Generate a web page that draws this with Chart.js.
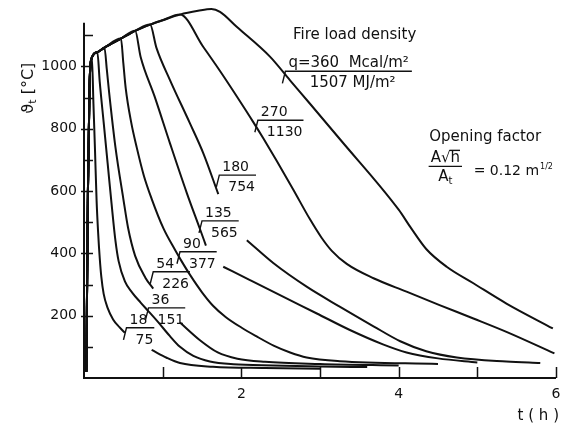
<!DOCTYPE html>
<html>
<head>
<meta charset="utf-8">
<script src="https://cdn.jsdelivr.net/npm/chart.js"></script>
<style>
  body { margin: 0; background: #fff; }
  canvas { display: block; }
</style>
</head>
<body>
<canvas id="fireChart" width="564" height="423"></canvas>
<script>
// shared growth phase (time in h, temperature in degC)
const envTime = [0.03, 0.05, 0.07, 0.09, 0.17, 0.26, 0.47, 0.65, 0.84, 1.0, 1.22, 1.45, 1.62];
const envTemp = [20, 600, 930, 1020, 1045, 1060, 1089, 1114, 1134, 1148, 1166, 1178, 1184];

// decay branches, null = gap where the label sits
const q18Time = [0.10, 0.12, 0.14, 0.16, 0.18, 0.20, 0.22, 0.25, 0.30, 0.37, 0.45, 0.52, 0.70, 0.86, 1.05, 1.22, 1.64, 2.3, 3.0];
const q18Temp = [1030, 880, 730, 570, 465, 385, 325, 270, 225, 188, 163, 145, null, 90, 65, 48, 36, 32, 30];
const q36Time = [0.17, 0.20, 0.25, 0.30, 0.35, 0.40, 0.44, 0.52, 0.61, 0.72, 0.82, 0.94, 1.09, 1.22, 1.39, 1.6, 1.9, 2.4, 3.0, 3.6];
const q36Temp = [1045, 950, 820, 690, 560, 440, 375, 310, 275, 242, 214, 180, 135, 100, 71, 53, 44, 40, 37, 35];
const q54Time = [0.26, 0.29, 0.32, 0.40, 0.50, 0.56, 0.65, 0.78, 0.88, 1.05, 1.22, 1.47, 1.70, 1.95, 2.3, 3.0, 4.0];
const q54Temp = [1060, 990, 915, 740, 575, 482, 392, 322, 287, null, 178, 122, 82, 62, 52, 45, 40];
const q90Time = [0.47, 0.50, 0.53, 0.60, 0.67, 0.76, 0.86, 1.01, 1.16, 1.24, 1.35, 1.50, 1.64, 1.80, 2.0, 2.19, 2.41, 2.62, 2.83, 3.25, 4.5];
const q90Temp = [1089, 1010, 930, 820, 740, 650, 575, 480, 410, 375, 330, 275, 232, 196, 162, 134, 104, 82, 66, 54, 45];
const q135Time = [0.65, 0.72, 0.895, 1.093, 1.305, 1.474, 1.55, 1.66, 1.77, 2.11, 2.53, 2.96, 3.38, 3.80, 4.10, 4.5, 5.0];
const q135Temp = [1114, 1030, 905, 753, 595, 478, 425, null, 357, 314, 261, 207, 154, 108, 82, 63, 50];
const q180Time = [0.84, 0.92, 1.093, 1.347, 1.517, 1.707, 1.89, 2.07, 2.41, 2.83, 3.25, 3.68, 4.02, 4.35, 4.74, 5.37, 5.8];
const q180Temp = [1134, 1060, 956, 817, 721, 590, null, 442, 368, 293, 229, 166, 118, 86, 66, 53, 48];
const q270Time = [1.22, 1.517, 1.729, 1.941, 2.152, 2.279, 2.449, 2.661, 2.873, 3.02, 3.15, 3.34, 3.68, 4.10, 4.52, 4.95, 5.37, 5.98];
const q270Temp = [1166, 1062, 985, 904, 821, 769, 697, 604, 509, 450, 408, 366, 320, 277, 234, 191, 148, 79];
const q360Time = [1.62, 1.729, 1.941, 2.364, 2.619, 2.873, 3.254, 4.0, 4.16, 4.35, 4.61, 4.95, 5.37, 5.96];
const q360Temp = [1184, 1175, 1127, 1031, 955, 880, 766, 540, 480, 414, 357, 304, 239, 159];

// curve labels: Mcal/m2 over MJ/m2, anchored at the left end of the bar
const labelMcal = ['18', '36', '54', '90', '135', '180', '270', 'q=360  Mcal/m²'];
const labelMJ = ['75', '151', '226', '377', '565', '754', '1130', '1507 MJ/m²'];
const labelTime = [0.54, 0.82, 0.88, 1.22, 1.50, 1.72, 2.21, 2.56];
const labelTemp = [161, 225, 341, 405, 504, 651, 827, 984];

const xTicks = [1, 2, 3, 4, 5, 6];
const yTicks = [100, 200, 300, 400, 500, 600, 700, 800, 900, 1000, 1100];

const ink = '#111';
const family = "'DejaVu Sans', sans-serif";

const curves = [
  [q18Time, q18Temp], [q36Time, q36Temp], [q54Time, q54Temp], [q90Time, q90Temp],
  [q135Time, q135Temp], [q180Time, q180Temp], [q270Time, q270Temp], [q360Time, q360Temp]
];

function curvePoints(times, temps) {
  const pts = envTime.map((t, i) => ({ x: t, y: envTemp[i] })).filter(p => p.x < times[0]);
  times.forEach((t, i) => pts.push({ x: t, y: temps[i] }));
  return pts;
}

const datasets = curves.map(([t, T]) => ({
  data: curvePoints(t, T),
  borderColor: ink,
  borderWidth: 2,
  pointRadius: 0,
  fill: false,
  spanGaps: false,
  cubicInterpolationMode: 'monotone'
}));

const inkPlugin = {
  id: 'ink',
  afterDatasetsDraw(chart) {
    const { ctx, scales: { x, y }, chartArea } = chart;
    ctx.save();
    ctx.strokeStyle = ink;
    ctx.fillStyle = ink;
    ctx.lineCap = 'butt';

    // axes
    ctx.lineWidth = 2;
    ctx.beginPath();
    ctx.moveTo(x.getPixelForValue(0), y.getPixelForValue(1140));
    ctx.lineTo(x.getPixelForValue(0), y.getPixelForValue(0));
    ctx.lineTo(x.getPixelForValue(6), y.getPixelForValue(0));
    ctx.stroke();

    // inward ticks
    ctx.lineWidth = 1.5;
    ctx.beginPath();
    yTicks.forEach(v => {
      const py = Math.round(y.getPixelForValue(v)) + 0.5;
      const x0 = x.getPixelForValue(0);
      ctx.moveTo(x0 - (v % 200 === 0 ? 3 : 0), py);
      ctx.lineTo(x0 + 9, py);
    });
    xTicks.forEach(v => {
      const px = Math.round(x.getPixelForValue(v)) + 0.5;
      const y0 = y.getPixelForValue(0);
      ctx.moveTo(px, y0);
      ctx.lineTo(px, y0 - 11);
    });
    ctx.stroke();

    // curve labels
    labelTime.forEach((t, i) => {
      const px = x.getPixelForValue(t);
      const py = y.getPixelForValue(labelTemp[i]);
      const big = i === labelTime.length - 1;
      ctx.font = (big ? 15 : 14) + 'px ' + family;
      const wTop = ctx.measureText(labelMcal[i]).width;
      const wBot = ctx.measureText(labelMJ[i]).width;
      const len = Math.max(wTop + 4, wBot + 8) + 2;
      ctx.lineWidth = 1.4;
      ctx.beginPath();
      ctx.moveTo(px - 3, py + 12);
      ctx.lineTo(px, py);
      ctx.lineTo(px + len, py);
      ctx.stroke();
      ctx.textAlign = 'left';
      ctx.textBaseline = 'alphabetic';
      ctx.fillText(labelMcal[i], px + 3, py - 4);
      ctx.fillText(labelMJ[i], px + Math.max(8, (len - wBot) / 2 + 4), py + 16);
    });

    // fire load density heading
    ctx.font = '15px ' + family;
    ctx.textAlign = 'center';
    ctx.textBaseline = 'middle';
    ctx.fillText('Fire load density', x.getPixelForValue(3.44), y.getPixelForValue(1100));

    // opening factor
    ctx.fillText('Opening factor', x.getPixelForValue(5.10), y.getPixelForValue(772));
    const fx0 = x.getPixelForValue(4.381), fx1 = x.getPixelForValue(4.805);
    const fy = y.getPixelForValue(679);
    ctx.lineWidth = 1.4;
    ctx.beginPath();
    ctx.moveTo(fx0, fy);
    ctx.lineTo(fx1, fy);
    ctx.stroke();
    const numTxt = 'A√h';
    const wNum = ctx.measureText(numTxt).width;
    const cx = (fx0 + fx1) / 2;
    ctx.textAlign = 'left';
    ctx.textBaseline = 'alphabetic';
    const nx = cx - wNum / 2, ny = fy - 4;
    ctx.fillText(numTxt, nx, ny);
    const wA = ctx.measureText('A√').width;
    ctx.beginPath();
    ctx.moveTo(nx + wA - 1, ny - 12);
    ctx.lineTo(nx + wNum, ny - 12);
    ctx.stroke();
    const wA2 = ctx.measureText('A').width;
    ctx.font = '10px ' + family;
    const wt = ctx.measureText('t').width;
    ctx.font = '15px ' + family;
    const dx = cx - (wA2 + wt) / 2;
    ctx.fillText('A', dx, fy + 15);
    ctx.font = '10px ' + family;
    ctx.fillText('t', dx + wA2, fy + 18);

    ctx.font = '14px ' + family;
    const ex = x.getPixelForValue(4.953);
    const ey = y.getPixelForValue(667) + 5;
    ctx.fillText('= 0.12 m', ex, ey);
    const wEq = ctx.measureText('= 0.12 m').width;
    ctx.font = '8px ' + family;
    ctx.fillText('1/2', ex + wEq + 1, ey - 6);

    // y title, rotated
    ctx.save();
    ctx.translate(chartArea.left - 55, y.getPixelForValue(930));
    ctx.rotate(-Math.PI / 2);
    ctx.font = '16px ' + family;
    const w1 = ctx.measureText('ϑ').width;
    const w3 = ctx.measureText(' [°C]').width;
    ctx.font = '11px ' + family;
    const w2 = ctx.measureText('t').width;
    let tx = -(w1 + w2 + w3) / 2;
    ctx.textBaseline = 'middle';
    ctx.font = '16px ' + family;
    ctx.fillText('ϑ', tx, 0);
    tx += w1;
    ctx.font = '11px ' + family;
    ctx.fillText('t', tx, 4);
    tx += w2;
    ctx.font = '16px ' + family;
    ctx.fillText(' [°C]', tx, 0);
    ctx.restore();

    // x title
    ctx.font = '15px ' + family;
    ctx.textAlign = 'right';
    ctx.textBaseline = 'middle';
    ctx.fillText('t ( h )', chartArea.right + 3, chartArea.bottom + 38);

    ctx.restore();
  }
};

function noScalePadding(s) {
  s.paddingTop = 0;
  s.paddingBottom = 0;
  s.paddingLeft = 0;
  s.paddingRight = 0;
}

new Chart(document.getElementById('fireChart').getContext('2d'), {
  type: 'line',
  data: { datasets: datasets },
  options: {
    responsive: false,
    animation: false,
    devicePixelRatio: 1,
    layout: { padding: { top: 4, right: 8, left: 0, bottom: 0 } },
    scales: {
      x: {
        type: 'linear',
        min: 0,
        max: 6,
        grid: { display: false, drawTicks: false },
        border: { display: false },
        ticks: {
          stepSize: 1,
          autoSkip: false,
          maxRotation: 0,
          padding: 8,
          color: ink,
          font: { family: family, size: 14 },
          callback: v => (v > 0 && v % 2 === 0) ? String(v) : ''
        },
        afterFit: s => { s.height = 45; noScalePadding(s); }
      },
      y: {
        type: 'linear',
        min: 0,
        max: 1200,
        grid: { display: false, drawTicks: false },
        border: { display: false },
        ticks: {
          stepSize: 100,
          autoSkip: false,
          padding: 7,
          color: ink,
          font: { family: family, size: 14 },
          callback: v => (v > 0 && v < 1200 && v % 200 === 0) ? String(v) : ''
        },
        afterFit: s => { s.width = 84; noScalePadding(s); }
      }
    },
    plugins: {
      legend: { display: false },
      tooltip: { enabled: false }
    }
  },
  plugins: [inkPlugin]
});
</script>
</body>
</html>
